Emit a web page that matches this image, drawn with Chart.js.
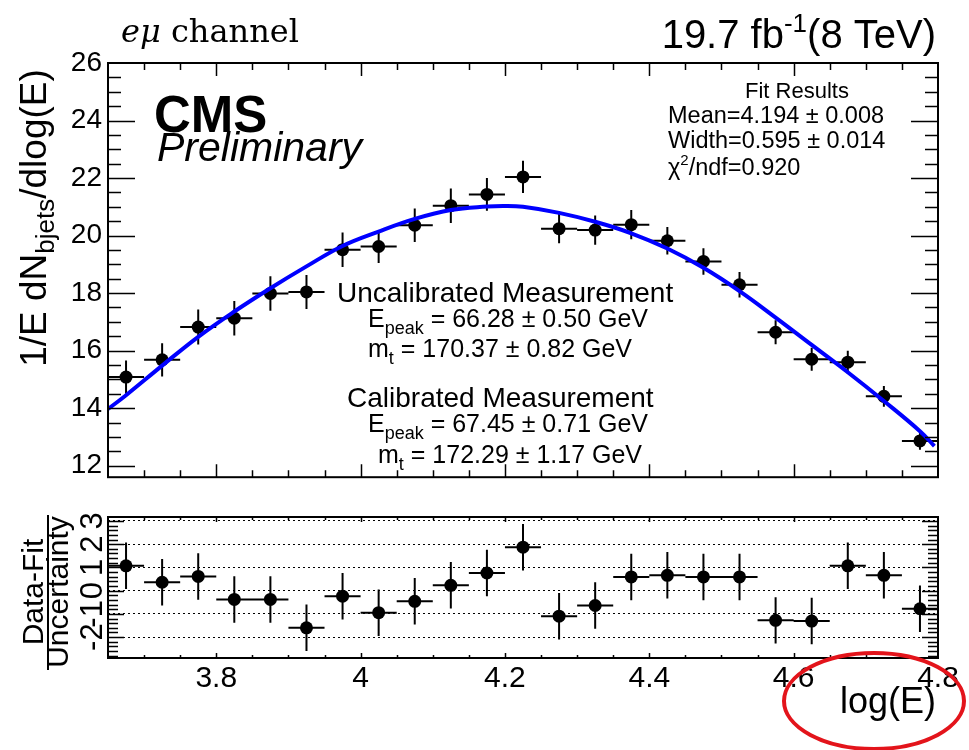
<!DOCTYPE html>
<html>
<head>
<meta charset="utf-8">
<title>eμ channel - log(E) fit</title>
<script src="https://cdn.jsdelivr.net/npm/chart.js@4.4.1/dist/chart.umd.min.js"></script>
<style>
  html, body { margin: 0; padding: 0; background: #fff; }
  #wrap { position: relative; width: 969px; height: 750px; overflow: hidden; }
  canvas { position: absolute; left: 0; }
  #top { top: 0; }
  #bot { top: 500px; }
</style>
</head>
<body>
<div id="wrap">
  <canvas id="top" width="969" height="500"></canvas>
  <canvas id="bot" width="969" height="250"></canvas>
</div>
<script>
// ---- data ----
var binCenters = [3.675, 3.725, 3.775, 3.825, 3.875, 3.925, 3.975, 4.025, 4.075, 4.125, 4.175, 4.225,
                  4.275, 4.325, 4.375, 4.425, 4.475, 4.525, 4.575, 4.625, 4.675, 4.725, 4.775];
var binHalfWidth = 0.025;
var measured = [15.08, 15.68, 16.82, 17.13, 17.99, 18.04, 19.51, 19.62, 20.36, 21.04, 21.43, 22.04,
                20.24, 20.19, 20.38, 19.82, 19.10, 18.29, 16.64, 15.70, 15.60, 14.41, 12.86];
var measuredErr = [0.58, 0.58, 0.61, 0.60, 0.60, 0.59, 0.60, 0.57, 0.58, 0.60, 0.57, 0.56,
                   0.51, 0.51, 0.51, 0.48, 0.46, 0.44, 0.42, 0.40, 0.40, 0.36, 0.31];
var pull = [1.07, 0.36, 0.61, -0.38, -0.38, -1.60, -0.24, -0.95, -0.46, 0.23, 0.76, 1.87,
            -1.10, -0.64, 0.59, 0.66, 0.59, 0.59, -1.28, -1.31, 1.07, 0.66, -0.78];
var pullErr = 1;
// fit curve
var fitX = [3.65, 3.675, 3.725, 3.775, 3.825, 3.875, 3.925, 3.975, 4.025, 4.075, 4.125, 4.175, 4.2,
            4.225, 4.275, 4.325, 4.375, 4.425, 4.475, 4.525, 4.575, 4.625, 4.675, 4.725, 4.775, 4.795];
var fitY = [13.97, 14.45, 15.48, 16.48, 17.36, 18.17, 18.93, 19.64, 20.14, 20.58, 20.89, 21.01, 21.03,
            21.00, 20.79, 20.48, 20.08, 19.55, 18.88, 18.07, 17.15, 16.20, 15.25, 14.25, 13.20, 12.68];
var xTicks = [3.8, 4, 4.2, 4.4, 4.6, 4.8];
var yTicksTop = [12, 14, 16, 18, 20, 22, 24, 26];
var yTicksPull = [-2, -1, 0, 1, 2, 3];

var FONT = '"Liberation Sans", Arial, Helvetica, sans-serif';
function f(size, style) { return (style || '') + ' ' + size + 'px ' + FONT; }

// draw a row of text pieces (for sub/superscripts)
function drawRuns(ctx, x, y, runs, align, rot) {
    ctx.save();
    ctx.translate(x, y);
    if (rot) ctx.rotate(rot);
    ctx.fillStyle = '#000';
    ctx.textBaseline = 'alphabetic';
    ctx.textAlign = 'left';
    var total = 0;
    runs.forEach(function (r) { ctx.font = r.font; r.w = ctx.measureText(r.t).width; total += r.w; });
    var cx = align === 'center' ? -total / 2 : (align === 'right' ? -total : 0);
    runs.forEach(function (r) { ctx.font = r.font; ctx.fillText(r.t, cx, r.dy || 0); cx += r.w; });
    ctx.restore();
}

// ROOT style frame with ticks on the inside
function frameTicks(chart, o) {
    var ctx = chart.ctx, a = chart.chartArea, xs = chart.scales.x, ys = chart.scales.y;
    ctx.save();
    ctx.strokeStyle = '#000';
    ctx.lineWidth = 1.5;
    ctx.beginPath();
    var n = Math.round((o.x1 - o.x0) / o.xStep);
    for (var i = 0; i <= n; i++) {
        var v = o.x0 + i * o.xStep;
        var px = Math.round(xs.getPixelForValue(v)) + 0.5;
        if (px <= a.left + 1 || px >= a.right - 1) continue;
        var r = v / o.xMajor;
        var len = Math.abs(r - Math.round(r)) < 1e-6 ? o.xLen[0] : o.xLen[1];
        ctx.moveTo(px, a.bottom); ctx.lineTo(px, a.bottom - len);
        ctx.moveTo(px, a.top); ctx.lineTo(px, a.top + len);
    }
    n = Math.round((o.y1 - o.y0) / o.yStep);
    for (i = 0; i <= n; i++) {
        v = o.y0 + i * o.yStep;
        var py = Math.round(ys.getPixelForValue(v)) + 0.5;
        if (py <= a.top + 1 || py >= a.bottom - 1) continue;
        r = v / o.yMajor;
        len = Math.abs(r - Math.round(r)) < 1e-6 ? o.yLen[0] : o.yLen[1];
        ctx.moveTo(a.left, py); ctx.lineTo(a.left + len, py);
        ctx.moveTo(a.right, py); ctx.lineTo(a.right - len, py);
    }
    ctx.stroke();
    ctx.lineWidth = 2;
    ctx.strokeRect(a.left, a.top, a.right - a.left, a.bottom - a.top);
    ctx.restore();
}

function errorBars(chart, ys, errs) {
    var ctx = chart.ctx, xs = chart.scales.x, sy = chart.scales.y, a = chart.chartArea;
    ctx.save();
    ctx.beginPath();
    ctx.rect(a.left, a.top, a.right - a.left, a.bottom - a.top);
    ctx.clip();
    ctx.strokeStyle = '#000';
    ctx.lineWidth = 2;
    ctx.beginPath();
    for (var i = 0; i < binCenters.length; i++) {
        var e = Array.isArray(errs) ? errs[i] : errs;
        var px = xs.getPixelForValue(binCenters[i]);
        var py = sy.getPixelForValue(ys[i]);
        ctx.moveTo(xs.getPixelForValue(binCenters[i] - binHalfWidth), py);
        ctx.lineTo(xs.getPixelForValue(binCenters[i] + binHalfWidth), py);
        ctx.moveTo(px, sy.getPixelForValue(ys[i] - e));
        ctx.lineTo(px, sy.getPixelForValue(ys[i] + e));
    }
    ctx.stroke();
    ctx.restore();
}

function points(xv, yv) {
    return xv.map(function (x, i) { return { x: x, y: yv[i] }; });
}

var topPlugin = {
    id: 'topDecor',
    beforeDatasetsDraw: function (chart) { errorBars(chart, measured, measuredErr); },
    afterDraw: function (chart) {
        var ctx = chart.ctx;
        frameTicks(chart, { x0: 3.65, x1: 4.8, xStep: 0.05, xMajor: 0.2, xLen: [13, 7],
                            y0: 12, y1: 26, yStep: 0.5, yMajor: 2, yLen: [27, 13] });

        // header
        drawRuns(ctx, 121, 42, [
            { t: 'eμ', font: 'italic 32px "DejaVu Serif", serif' },
            { t: ' channel', font: '32px "DejaVu Serif", serif' }
        ], 'left');
        drawRuns(ctx, 936, 48, [
            { t: '19.7 fb', font: f(40) },
            { t: '-1', font: f(26), dy: -16 },
            { t: '(8 TeV)', font: f(40) }
        ], 'right');
        drawRuns(ctx, 154, 132, [{ t: 'CMS', font: f(51, 'bold') }], 'left');
        drawRuns(ctx, 157, 161, [{ t: 'Preliminary', font: f(41, 'italic') }], 'left');

        // fit results
        drawRuns(ctx, 797, 98, [{ t: 'Fit Results', font: f(22) }], 'center');
        drawRuns(ctx, 668, 123, [{ t: 'Mean=4.194 ± 0.008', font: f(23.5) }], 'left');
        drawRuns(ctx, 668, 148, [{ t: 'Width=0.595 ± 0.014', font: f(23.5) }], 'left');
        drawRuns(ctx, 668, 175, [
            { t: 'χ', font: f(23.5) },
            { t: '2', font: f(15), dy: -10 },
            { t: '/ndf=0.920', font: f(23.5) }
        ], 'left');

        // measurements
        drawRuns(ctx, 337, 302, [{ t: 'Uncalibrated Measurement', font: f(28) }], 'left');
        drawRuns(ctx, 368, 327, [
            { t: 'E', font: f(25) }, { t: 'peak', font: f(18), dy: 7 },
            { t: ' = 66.28 ± 0.50 GeV', font: f(25) }
        ], 'left');
        drawRuns(ctx, 368, 357, [
            { t: 'm', font: f(25) }, { t: 't', font: f(18), dy: 7 },
            { t: ' = 170.37 ± 0.82 GeV', font: f(25) }
        ], 'left');
        drawRuns(ctx, 347, 407, [{ t: 'Calibrated Measurement', font: f(28) }], 'left');
        drawRuns(ctx, 368, 432, [
            { t: 'E', font: f(25) }, { t: 'peak', font: f(18), dy: 7 },
            { t: ' = 67.45 ± 0.71 GeV', font: f(25) }
        ], 'left');
        drawRuns(ctx, 378, 463, [
            { t: 'm', font: f(25) }, { t: 't', font: f(18), dy: 7 },
            { t: ' = 172.29 ± 1.17 GeV', font: f(25) }
        ], 'left');

        // y title
        drawRuns(ctx, 46, 218, [
            { t: '1/E dN', font: f(37) },
            { t: 'bjets', font: f(26), dy: 8 },
            { t: '/dlog(E)', font: f(37) }
        ], 'center', -Math.PI / 2);
    }
};

var botPlugin = {
    id: 'botDecor',
    beforeDatasetsDraw: function (chart) { errorBars(chart, pull, pullErr); },
    afterDraw: function (chart) {
        var ctx = chart.ctx, ys = chart.scales.y;
        frameTicks(chart, { x0: 3.65, x1: 4.8, xStep: 0.05, xMajor: 0.2, xLen: [5, 3],
                            y0: -2.8, y1: 3.0, yStep: 0.2, yMajor: 1, yLen: [16, 10] });
        // rotated pull tick labels
        yTicksPull.forEach(function (v) {
            drawRuns(ctx, 102, ys.getPixelForValue(v), [{ t: String(v), font: f(31) }], 'center', -Math.PI / 2);
        });
        // y title as a fraction
        var cy = 92;
        drawRuns(ctx, 43, cy, [{ t: 'Data-Fit', font: f(30) }], 'center', -Math.PI / 2);
        drawRuns(ctx, 68, cy, [{ t: 'Uncertainty', font: f(30) }], 'center', -Math.PI / 2);
        ctx.save();
        ctx.strokeStyle = '#000';
        ctx.lineWidth = 2;
        ctx.beginPath();
        ctx.moveTo(48, 15); ctx.lineTo(48, 170);
        ctx.stroke();
        ctx.restore();
        // x title
        drawRuns(ctx, 936, 213, [{ t: 'log(E)', font: f(36) }], 'right');
        // red ellipse
        ctx.save();
        ctx.strokeStyle = '#e3141b';
        ctx.lineWidth = 4;
        ctx.beginPath();
        ctx.ellipse(874, 201, 90, 48, 0, 0, Math.PI * 2);
        ctx.stroke();
        ctx.restore();
    }
};

var common = {
    responsive: false,
    devicePixelRatio: 1,
    animation: false,
    plugins: { legend: { display: false }, tooltip: { enabled: false } }
};

new Chart(document.getElementById('top'), {
    type: 'scatter',
    data: {
        datasets: [
            {
                data: points(fitX, fitY), showLine: true, tension: 0.4,
                borderColor: '#0000ff', borderWidth: 4, pointRadius: 0, fill: false
            },
            {
                data: points(binCenters, measured),
                pointRadius: 6.5, pointBackgroundColor: '#000', pointBorderColor: '#000', pointBorderWidth: 0
            }
        ]
    },
    options: Object.assign({}, common, {
        layout: { padding: { top: 63, right: 31, left: 0, bottom: 0 } },
        scales: {
            x: {
                type: 'linear', min: 3.65, max: 4.8,
                grid: { display: false, drawTicks: false }, border: { display: false },
                ticks: { display: false },
                afterFit: function (s) { s.height = 5; }
            },
            y: {
                min: 11.6, max: 26,
                grid: { display: false, drawTicks: false }, border: { display: false },
                afterBuildTicks: function (s) { s.ticks = yTicksTop.map(function (v) { return { value: v }; }); },
                ticks: { color: '#000', font: { size: 28, family: FONT }, padding: 6, autoSkip: false,
                         callback: function (v) { return String(v); } },
                afterFit: function (s) { s.width = 108; }
            }
        }
    }),
    plugins: [topPlugin]
});

new Chart(document.getElementById('bot'), {
    type: 'scatter',
    data: {
        datasets: [{
            data: points(binCenters, pull),
            pointRadius: 6.5, pointBackgroundColor: '#000', pointBorderColor: '#000', pointBorderWidth: 0
        }]
    },
    options: Object.assign({}, common, {
        layout: { padding: { top: 17, right: 31, left: 0, bottom: 0 } },
        scales: {
            x: {
                type: 'linear', min: 3.65, max: 4.8,
                grid: { display: false, drawTicks: false }, border: { display: false },
                afterBuildTicks: function (s) { s.ticks = xTicks.map(function (v) { return { value: v }; }); },
                ticks: { color: '#000', font: { size: 30, family: FONT }, padding: 3, autoSkip: false,
                         maxRotation: 0, callback: function (v) { return String(v); } },
                afterFit: function (s) { s.height = 92; }
            },
            y: {
                min: -2.9, max: 3.17,
                afterBuildTicks: function (s) { s.ticks = yTicksPull.map(function (v) { return { value: v }; }); },
                grid: { display: true, drawTicks: false, color: '#000', lineWidth: 1 },
                border: { display: false, dash: [2, 3] },
                ticks: { display: false },
                afterFit: function (s) { s.width = 108; }
            }
        }
    }),
    plugins: [botPlugin]
});
</script>
</body>
</html>
